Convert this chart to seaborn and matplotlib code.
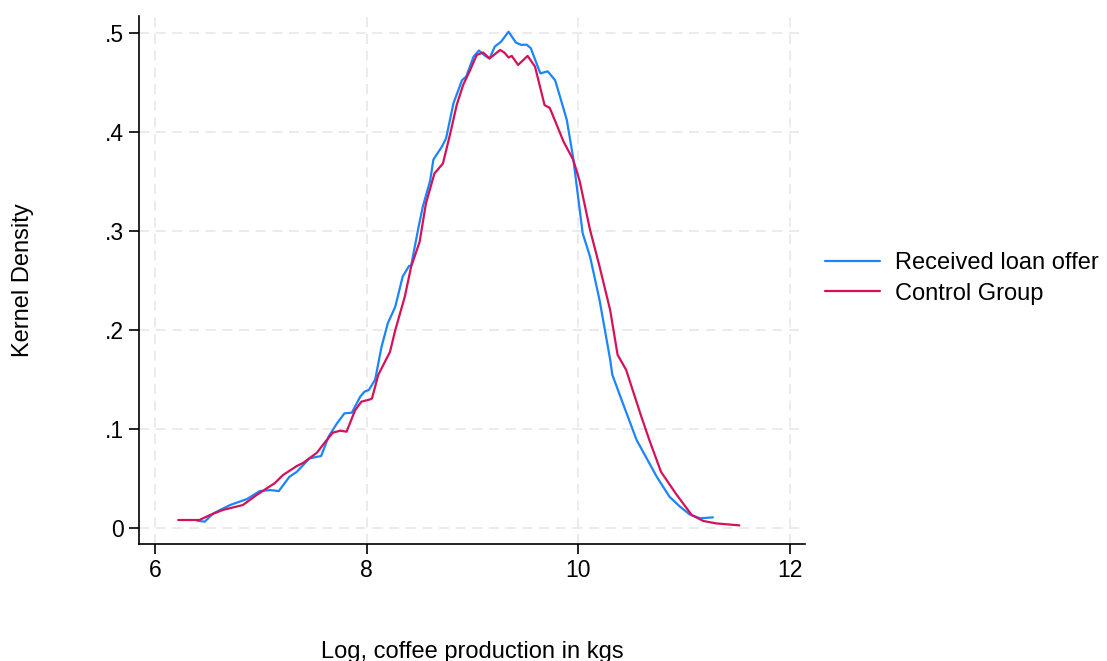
import numpy as np
import pandas as pd
import seaborn as sns
import matplotlib.pyplot as plt
from matplotlib.ticker import FuncFormatter

# kernel density curves
loan_x = [6.40, 6.47, 6.55, 6.71, 6.87, 6.99, 7.09, 7.17, 7.27, 7.34, 7.46, 7.57, 7.64,
          7.72, 7.79, 7.86, 7.94, 7.98, 8.02, 8.08, 8.14, 8.20, 8.27, 8.34, 8.40, 8.42,
          8.49, 8.53, 8.60, 8.63, 8.71, 8.75, 8.82, 8.90, 8.94, 9.01, 9.06, 9.12, 9.16,
          9.21, 9.27, 9.34, 9.41, 9.46, 9.51, 9.55, 9.64, 9.71, 9.78, 9.83, 9.89, 9.95,
          10.04, 10.11, 10.20, 10.30, 10.32, 10.42, 10.55, 10.67, 10.74, 10.86, 10.96,
          11.05, 11.15, 11.27]
loan_y = [0.0077, 0.0067, 0.015, 0.0235, 0.0296, 0.0376, 0.0386, 0.0376, 0.052, 0.057,
          0.0706, 0.073, 0.0925, 0.106, 0.116, 0.1167, 0.133, 0.138, 0.1395, 0.15, 0.183,
          0.207, 0.2236, 0.254, 0.2647, 0.265, 0.304, 0.3245, 0.351, 0.372, 0.385, 0.3935,
          0.429, 0.452, 0.4557, 0.476, 0.482, 0.4766, 0.474, 0.486, 0.491, 0.501, 0.49,
          0.4877, 0.488, 0.4844, 0.459, 0.461, 0.452, 0.434, 0.412, 0.374, 0.2977, 0.274,
          0.230, 0.170, 0.155, 0.126, 0.089, 0.0656, 0.052, 0.0319, 0.0218, 0.0141,
          0.0101, 0.0111]

ctrl_x = [6.22, 6.33, 6.42, 6.52, 6.64, 6.83, 6.96, 7.09, 7.13, 7.21, 7.34, 7.40, 7.53,
          7.61, 7.68, 7.75, 7.81, 7.89, 7.95, 8.03, 8.05, 8.11, 8.22, 8.27, 8.36, 8.42,
          8.50, 8.56, 8.64, 8.72, 8.79, 8.85, 8.91, 8.97, 9.04, 9.10, 9.16, 9.26, 9.30,
          9.34, 9.37, 9.43, 9.52, 9.59, 9.68, 9.73, 9.86, 9.95, 10.01, 10.11, 10.20,
          10.30, 10.37, 10.45, 10.59, 10.67, 10.78, 10.92, 11.07, 11.18, 11.30, 11.52]
ctrl_y = [0.0084, 0.0084, 0.0084, 0.0134, 0.0185, 0.0235, 0.0336, 0.0427, 0.0454, 0.0538,
          0.0629, 0.066, 0.0763, 0.0874, 0.0965, 0.0985, 0.0975, 0.119, 0.1278, 0.130,
          0.131, 0.155, 0.178, 0.200, 0.2337, 0.264, 0.289, 0.328, 0.358, 0.368, 0.3986,
          0.427, 0.447, 0.4607, 0.4776, 0.480, 0.474, 0.4826, 0.480, 0.475, 0.4766,
          0.4675, 0.4766, 0.4658, 0.427, 0.424, 0.390, 0.372, 0.351, 0.301, 0.264, 0.220,
          0.175, 0.160, 0.114, 0.089, 0.057, 0.035, 0.0134, 0.0074, 0.005, 0.003]

groups = ['Received loan offer', 'Control Group']
colors = ['#1a85ff', '#d41159']
xticks = [6, 8, 10, 12]
yticks = [0, 0.1, 0.2, 0.3, 0.4, 0.5]

df = pd.concat([
    pd.DataFrame({'x': loan_x, 'y': loan_y, 'group': groups[0]}),
    pd.DataFrame({'x': ctrl_x, 'y': ctrl_y, 'group': groups[1]}),
])

sns.set_style('white')
plt.rcParams['font.family'] = ['Liberation Sans', 'DejaVu Sans']

fig = plt.figure(figsize=(11.07, 6.61), dpi=100)
ax = fig.add_axes([0.1256, 0.177, 0.6016, 0.799])

sns.lineplot(data=df, x='x', y='y', hue='group', hue_order=groups, palette=colors,
             estimator=None, sort=False, linewidth=1.6, ax=ax)

ax.set_xlim(5.85, 12.14)
ax.set_ylim(-0.0158, 0.517)
ax.set_xticks(xticks)
ax.set_yticks(yticks)
ax.yaxis.set_major_formatter(FuncFormatter(lambda v, p: '0' if v == 0 else f'{v:.1f}'.lstrip('0')))
ax.grid(True, color='#e8e8e8', linestyle=(0, (6, 4)), linewidth=1.2)
ax.set_axisbelow(True)
for side in ['top', 'right']:
    ax.spines[side].set_visible(False)
for side in ['left', 'bottom']:
    ax.spines[side].set_color('black')
    ax.spines[side].set_linewidth(1.2)
ax.tick_params(axis='both', direction='out', length=7, width=1.2, color='black',
               labelsize=16.5, labelcolor='black', left=True, bottom=True, pad=4)

ax.set_xlabel('Log, coffee production in kgs', fontsize=17, color='black', va='top')
ax.set_ylabel('Kernel Density', fontsize=17, color='black')
ax.xaxis.set_label_coords(0.5, -0.184)
ax.yaxis.set_label_coords(-0.157, 0.5)

handles, labels = ax.get_legend_handles_labels()
leg = ax.legend(handles, labels, loc='center left', bbox_to_anchor=(0.745, 0.579),
                bbox_transform=fig.transFigure, frameon=False, fontsize=17,
                handlelength=2.33, handletextpad=0.64, labelspacing=0.36,
                borderpad=0, borderaxespad=0)
for t in leg.get_texts():
    t.set_color('black')

fig.savefig('out.png', dpi=100)
